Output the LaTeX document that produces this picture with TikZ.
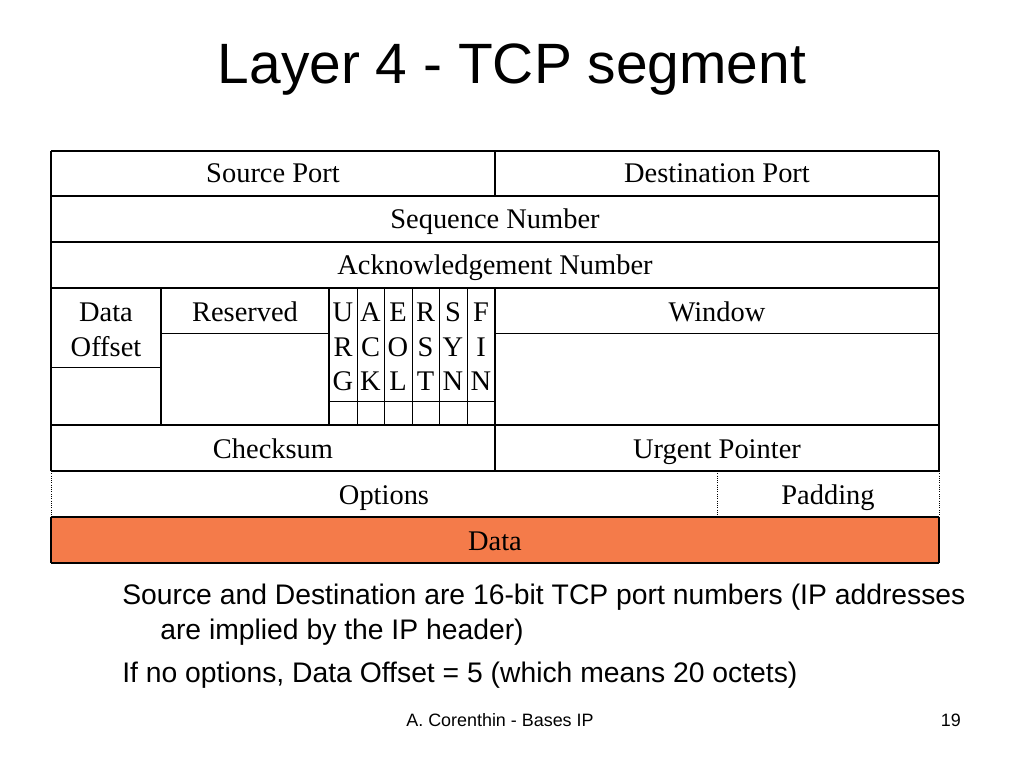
\documentclass[tikz,border=0pt]{standalone}
\usepackage{fontspec}
\setmainfont{Liberation Serif}
\newfontfamily\arialfont{Liberation Sans}
\definecolor{dataorange}{RGB}{244,123,74}
\tikzset{
  frame/.style={draw=black, line width=1.1pt},
  thin/.style={draw=black, line width=0.6pt},
  dotline/.style={draw=black, line width=0.6pt, densely dotted},
  cell/.style={anchor=base, inner sep=0pt, font=\fontsize{20}{24}\selectfont},
  flag/.style={anchor=base, inner sep=0pt, font=\fontsize{20}{24}\selectfont},
  title/.style={anchor=base, inner sep=0pt, font=\arialfont\fontsize{40}{48}\selectfont},
  body/.style={anchor=base west, inner sep=0pt, font=\arialfont\fontsize{19.9}{24}\selectfont},
  foot/.style={anchor=base, inner sep=0pt, font=\arialfont\fontsize{12.6}{15}\selectfont},
}
\begin{document}
\begin{tikzpicture}[x=0.703125pt,y=-0.703125pt]
\useasboundingbox (0,0) rectangle (1024,768);
\fill[white] (0,0) rectangle (1024,768);

% title
\node[title] (title) at (512,84) {Layer 4 - TCP segment};

% data row fill
\fill[dataorange] (51,517) rectangle (939,563);

% row 4 internal thin lines
\draw[thin] (51,367) -- (161,367);
\draw[thin] (161,333) -- (329,333);
\draw[thin] (495,333) -- (939,333);
\draw[thin] (329,401) -- (495,401);
\foreach \x in {357,384,412,439,467} \draw[thin] (\x,288) -- (\x,425);

% options row verticals (dotted)
\draw[dotline] (51,471) -- (51,517);
\draw[dotline] (939,471) -- (939,517);
\draw[dotline] (717,471) -- (717,517);

% frame lines
\draw[frame] (51,151) -- (939,151);
\draw[frame] (51,196) -- (939,196);
\draw[frame] (51,242) -- (939,242);
\draw[frame] (51,288) -- (939,288);
\draw[frame] (51,425) -- (939,425);
\draw[frame] (51,471) -- (939,471);
\draw[frame] (51,517) -- (939,517);
\draw[frame] (51,563) -- (939,563);
\draw[frame] (51,151) -- (51,471);
\draw[frame] (939,151) -- (939,471);
\draw[frame] (51,517) -- (51,563);
\draw[frame] (939,517) -- (939,563);
\draw[frame] (495,151) -- (495,196);
\draw[frame] (161,288) -- (161,425);
\draw[frame] (329,288) -- (329,425);
\draw[frame] (495,288) -- (495,471);

% cell texts
\node[cell] (srcport) at (273,183) {Source Port};
\node[cell] (dstport) at (717,183) {Destination Port};
\node[cell] (seq) at (495,229) {Sequence Number};
\node[cell] (ack) at (495,275) {Acknowledgement Number};
\node[cell] (doff1) at (106,322) {Data};
\node[cell] (doff2) at (106,356) {Offset};
\node[cell] (res) at (245,322) {Reserved};
\node[cell] (win) at (717,322) {Window};
\node[cell] (chk) at (273,458) {Checksum};
\node[cell] (urg) at (717,458) {Urgent Pointer};
\node[cell] (opt) at (384,504) {Options};
\node[cell] (pad) at (828,504) {Padding};
\node[cell] (data) at (495,550) {Data};

% flags
\foreach \cx/\a/\b/\c [count=\i] in {343/U/R/G, 370.5/A/C/K, 398/E/O/L, 425.5/R/S/T, 453/S/Y/N, 481/F/I/N}{
  \node[flag] (flag\i a) at (\cx,322) {\a};
  \node[flag] (flag\i b) at (\cx,356) {\b};
  \node[flag] (flag\i c) at (\cx,390) {\c};
}

% body text
\node[body] (t1) at (122,604) {Source and Destination are 16-bit TCP port numbers (IP addresses};
\node[body] (t2) at (160,639) {are implied by the IP header)};
\node[body] (t3) at (122,682) {If no options, Data Offset = 5 (which means 20 octets)};

% footer
\node[foot] (author) at (500,726) {A. Corenthin - Bases IP};
\node[foot, anchor=base east] (page) at (961,726) {19};
\end{tikzpicture}
\end{document}
